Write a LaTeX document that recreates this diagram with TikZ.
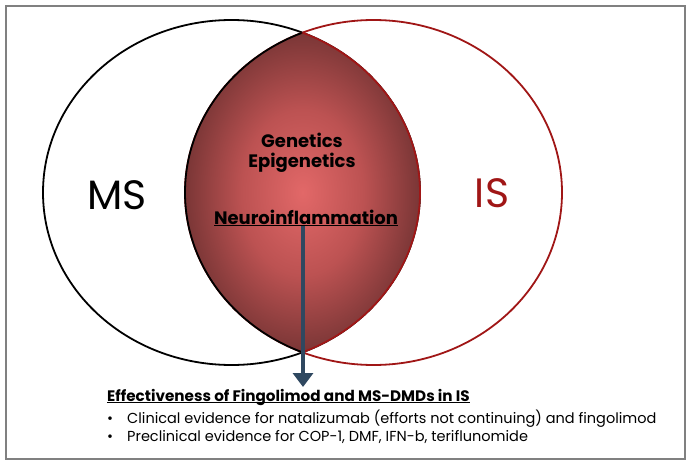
\documentclass[tikz,border=0pt]{standalone}
\usepackage{fontspec}
\setmainfont{Poppins}
\usetikzlibrary{arrows.meta}

\definecolor{isred}{RGB}{160,22,22}
\definecolor{lenslight}{RGB}{226,104,104}
\definecolor{lensmid}{RGB}{188,82,82}
\definecolor{lensdark}{RGB}{122,54,54}
\definecolor{flowblue}{RGB}{47,72,96}
\definecolor{framegray}{RGB}{128,128,128}

\pgfdeclareradialshading{lensglow}{\pgfpoint{0bp}{0bp}}{%
    color(0bp)=(lenslight); color(13bp)=(lensmid); color(25bp)=(lensdark); color(50bp)=(lensdark)}

\begin{document}
\begin{tikzpicture}[x=1pt, y=-1pt,
    ring/.style={line width=1.8pt},
    bigname/.style={font=\fontsize{41}{41}\selectfont, inner sep=0pt},
    lenstext/.style={font=\bfseries\fontsize{18}{20}\selectfont, inner sep=0pt},
    flow/.style={flowblue, line width=4.5pt, -{Triangle[width=20pt, length=14pt]}},
    bodytext/.style={font=\fontsize{14.5}{16}\selectfont, anchor=west, inner sep=0pt}]
    \useasboundingbox (0,0) rectangle (692,468);
    \draw[framegray, line width=1.2pt] (6,6) rectangle (685,459);

    % the two sets
    \draw[ring] (231.5,192.5) ellipse [x radius=188.5pt, y radius=172.5pt];
    \draw[ring, isred] (373.5,192.5) ellipse [x radius=188.5pt, y radius=172.5pt];

    % overlap
    \begin{scope}
        \clip (231.5,192.5) ellipse [x radius=188.5pt, y radius=172.5pt];
        \clip (373.5,192.5) ellipse [x radius=188.5pt, y radius=172.5pt];
        \shade[shading=lensglow] (185,33) rectangle (420,352);
    \end{scope}
    \begin{scope}
        \clip (231.5,192.5) ellipse [x radius=188.5pt, y radius=172.5pt];
        \draw[ring] (373.5,192.5) ellipse [x radius=188.5pt, y radius=172.5pt];
    \end{scope}
    \begin{scope}
        \clip (373.5,192.5) ellipse [x radius=188.5pt, y radius=172.5pt];
        \draw[ring, isred] (231.5,192.5) ellipse [x radius=188.5pt, y radius=172.5pt];
    \end{scope}

    \node[bigname] (ms) at (117,195) {MS};
    \node[bigname, text=isred] (is) at (492,193) {IS};

    \node[lenstext] (genetics) at (302,140) {Genetics};
    \node[lenstext] (epigenetics) at (302,163) {Epigenetics};
    \node[lenstext] (neuro) at (306,218) {\underline{Neuroinflammation}};

    \coordinate (tip) at (303,387);
    \draw[flow] (neuro.south -| tip) -- (tip);

    \node[bodytext, font=\bfseries\fontsize{15.2}{16}\selectfont] (effect) at (107,402)
        {\underline{\smash{Effectiveness of Fingolimod and MS-DMDs in IS}}};
    \node[bodytext] (clinical) at (107,419)
        {\makebox[20pt][l]{\textbullet}Clinical evidence for natalizumab (efforts not continuing) and fingolimod};
    \node[bodytext] (preclinical) at (107,437)
        {\makebox[20pt][l]{\textbullet}Preclinical evidence for COP-1, DMF, IFN-b, teriflunomide};
\end{tikzpicture}
\end{document}
